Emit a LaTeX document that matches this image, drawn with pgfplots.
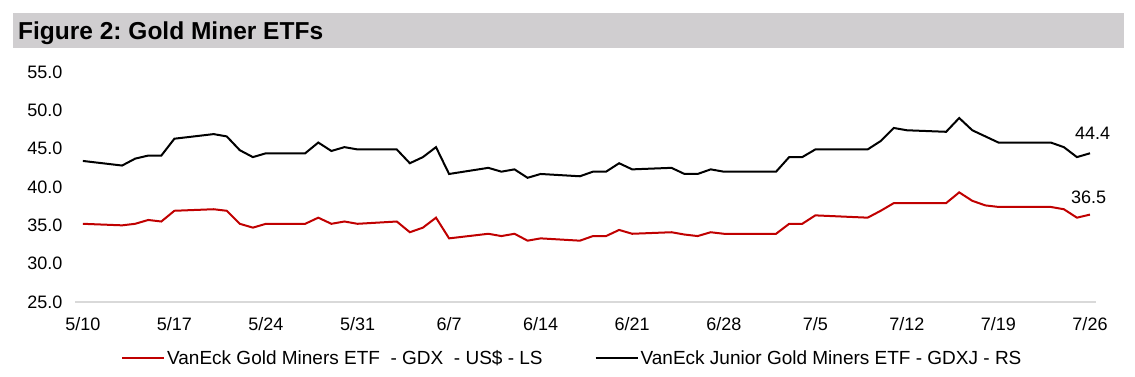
\documentclass[border=0pt]{standalone}
\usepackage{fontspec}
\setmainfont{Liberation Sans}
\usepackage{pgfplots}
\pgfplotsset{compat=1.18}
\definecolor{band}{RGB}{208,206,208}
\definecolor{gdxred}{RGB}{192,0,0}
\definecolor{axgray}{RGB}{217,217,217}
\pgfplotstableread{
day val
0 35.2
3 35.0
4 35.2
5 35.7
6 35.5
7 36.9
10 37.1
11 36.9
12 35.2
13 34.7
14 35.2
17 35.2
18 36.0
19 35.2
20 35.5
21 35.2
24 35.5
25 34.1
26 34.7
27 36.0
28 33.3
31 33.9
32 33.6
33 33.9
34 33.0
35 33.3
38 33.0
39 33.6
40 33.6
41 34.4
42 33.9
45 34.1
46 33.8
47 33.6
48 34.1
49 33.9
53 33.9
54 35.2
55 35.2
56 36.3
60 36.0
61 36.9
62 37.9
66 37.9
67 39.3
68 38.2
69 37.6
70 37.4
74 37.4
75 37.1
76 36.0
77 36.4
}\gdx
\pgfplotstableread{
day val
0 43.4
3 42.8
4 43.7
5 44.1
6 44.1
7 46.3
10 46.9
11 46.6
12 44.8
13 43.9
14 44.4
17 44.4
18 45.8
19 44.7
20 45.2
21 44.9
24 44.9
25 43.1
26 43.9
27 45.2
28 41.7
31 42.5
32 42.0
33 42.3
34 41.2
35 41.7
38 41.4
39 42.0
40 42.0
41 43.1
42 42.3
45 42.5
46 41.7
47 41.7
48 42.3
49 42.0
53 42.0
54 43.9
55 43.9
56 44.9
60 44.9
61 46.0
62 47.7
63 47.4
66 47.2
67 49.0
68 47.4
69 46.6
70 45.8
74 45.8
75 45.2
76 43.9
77 44.4
}\gdxj
\frenchspacing
\begin{document}
\frenchspacing
\begin{tikzpicture}[x=1pt,y=1pt]
\useasboundingbox (0,0) rectangle (1135,376);
\fill[band] (13,328) rectangle (1124,363);
\node[anchor=base west, inner sep=0, font=\fontsize{24.5}{28}\selectfont\bfseries] at (18,337) {Figure 2: Gold Miner ETFs};
\begin{axis}[
  at={(75pt,74pt)}, anchor=south west,
  scale only axis, width=1021pt, height=230pt,
  xmin=-0.6, xmax=77.46, ymin=25, ymax=55,
  axis lines*=left,
  y axis line style={draw=none},
  x axis line style={draw=axgray, line width=1.6pt},
  major tick length=0,
  clip=false,
  xtick={0,7,14,21,28,35,42,49,56,63,70,77},
  xticklabels={5/10,5/17,5/24,5/31,6/7,6/14,6/21,6/28,7/5,7/12,7/19,7/26},
  ytick={25,30,35,40,45,50,55},
  yticklabel={\pgfmathprintnumber[fixed,fixed zerofill,precision=1,assume math mode=true]{\tick}},
  ticklabel style={font=\fontsize{18}{21}\selectfont},
  yticklabel style={xshift=-9pt},
  xticklabel style={yshift=-12pt},
  legend columns=2,
  legend style={at={(0.045,-0.243)}, anchor=west, draw=none, fill=none,
    inner sep=0pt, font=\fontsize{19}{22}\selectfont,
    /tikz/every even column/.append style={column sep=50pt}},
  legend image code/.code={\draw[#1] (0pt,0pt) -- (42pt,0pt);},
]
\addplot[gdxred, line width=2pt] table[x=day,y=val] {\gdx};
\addlegendentry{VanEck Gold Miners ETF\ \ - GDX\ \ - US\$ - LS}
\addplot[black, line width=2pt] table[x=day,y=val] {\gdxj};
\addlegendentry{VanEck Junior Gold Miners ETF - GDXJ - RS}
\node[font=\fontsize{18}{21}\selectfont] at (axis cs:77.2,47.0) {44.4};
\node[font=\fontsize{18}{21}\selectfont] at (axis cs:76.9,38.7) {36.5};
\end{axis}
\end{tikzpicture}
\end{document}
